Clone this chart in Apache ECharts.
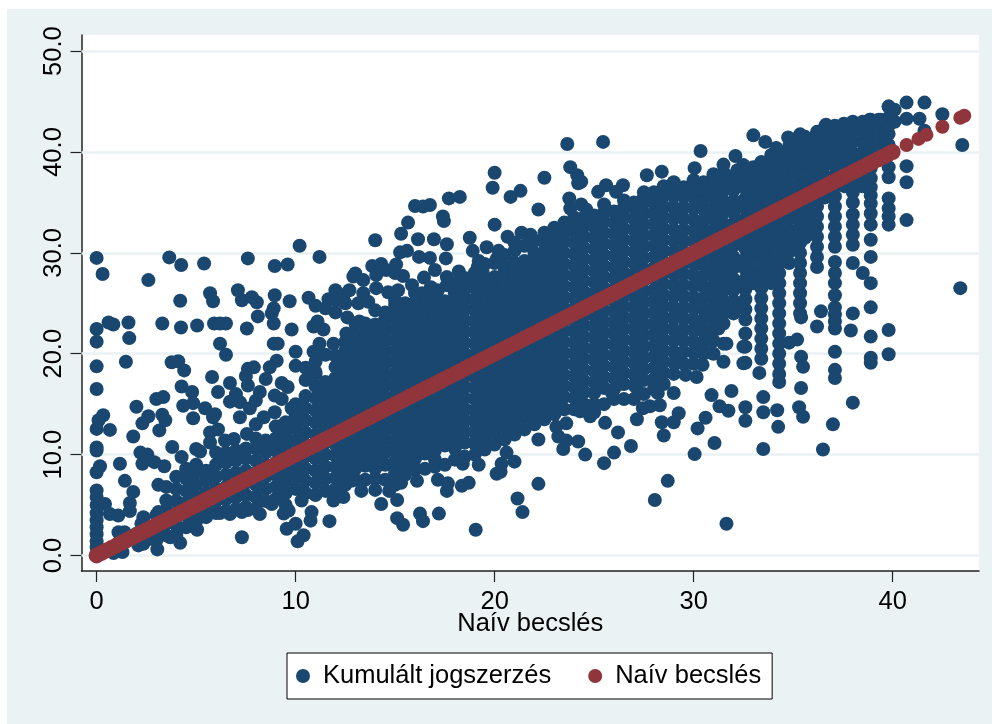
<!DOCTYPE html>
<html><head><meta charset="utf-8">
<style>html,body{margin:0;padding:0;background:#fff}#c{position:absolute;left:7px;top:9px;width:985px;height:715px}</style>
<script src="https://cdn.jsdelivr.net/npm/echarts@6/dist/echarts.min.js"></script></head>
<body><div id="c"></div>
<script>
const seriesNames = ['Kumulált jogszerzés','Naív becslés'];
const xTicks = [0,10,20,30,40];
const yTicks = [0,10,20,30,40,50];
const axisTitle = 'Naív becslés';

// Naív becslés (x = y)
const naiv = [0,.25,.5,.75,1,1.25,1.5,1.75,2,2.25,2.5,2.75,3,3.25,3.5,3.75,4,4.25,4.5,4.75,5,5.25,5.5,5.75,6,6.25,6.5,6.75,7,7.25,7.5,7.75,8,8.25,8.5,8.75,9,9.25,9.5,9.75,10,10.25,10.5,10.75,11,11.25,11.5,11.75,12,12.25,12.5,12.75,13,13.25,13.5,13.75,14,14.25,14.5,14.75,15,15.25,15.5,15.75,16,16.25,16.5,16.75,17,17.25,17.5,17.75,18,18.25,18.5,18.75,19,19.25,19.5,19.75,20,20.25,20.5,20.75,21,21.25,21.5,21.75,22,22.25,22.5,22.75,23,23.25,23.5,23.75,24,24.25,24.5,24.75,25,25.25,25.5,25.75,26,26.25,26.5,26.75,27,27.25,27.5,27.75,28,28.25,28.5,28.75,29,29.25,29.5,29.75,30,30.25,30.5,30.75,31,31.25,31.5,31.75,32,32.25,32.5,32.75,33,33.25,33.5,33.75,34,34.25,34.5,34.75,35,35.25,35.5,35.75,36,36.25,36.5,36.75,37,37.25,37.5,37.75,38,38.25,38.5,38.75,39,39.25,39.5,39.75,40,40.7,41.3,41.7,42.5,43.4,43.6];
const naivVonalVege = 40;

// Kumulált jogszerzés: dense columns, x then the y values in that column
const oszlopX = [3,3.5,4,4.5,5,5.5,6,6.5,7,7.5,8,8.5,9,9.5,10,10.5,11,11.5,12,12.5,13,13.5,14,14.5,15,15.5,16,16.5,17,17.5,18,18.5,19,19.5,20,20.5,21,21.5,22,22.5,23,23.5,24,24.5,25,25.5,26,26.5,27,27.5,28,28.5,29,29.5,30,30.5,31,31.5,32,32.6,33,33.4,33.9,34.3,34.8,35.35,35.8,36.2,36.6,37.1,37.6,38,38.5,38.9,39.4,39.8];
const oszlopY = [
[1.5,2.6,4],
[2,3.2,4.5,5.45,6.8],
[2,3,4.2,5.4,6.6,7.8],
[2.8,4,5.2,6.4,7.6,8.6],
[3.4,4.6,5.8,7,8.2,9],
[3.8,5,6.2,7.4,8.4],
[4.2,5.4,6.6,7.8,9,10.2],
[4.4,5.6,6.8,8,9.2,10.2],
[4.6,5.8,7,8.2,9.4,10.4],
[4.8,6,7.2,8.4,9.6,10.6],
[4.6,5.8,7,8.2,9.4,10.6,11.6],
[5.4,6.6,7.8,9,10.2,11.4],
[5.6,6.8,8,9.2,10.4,11.6,12.8],
[5,6.2,7.4,8.6,9.8,11,12.2,13.2],
[6.6,7.8,9,10.2,11.4,12.6,13.8,15],
[6.2,7.4,8.6,9.8,11,12.2,13.4,14.6,15.8,17.4],
[6,7.2,8.4,9.6,10.8,12,13.2,14.4,15.6,16.8,18,19.2],
[6.4,7.6,8.8,10,11.2,12.4,13.6,14.8,16,17.2,19.9],
[6.6,7.7,8.8,9.9,11,12.1,13.2,14.3,15.4,16.5,17.6,18.7,19.8],
[7,8.2,9.3,10.4,11.5,12.6,13.7,14.8,15.9,17,18.1,19.2,20.3,21.2],
[7.5,8.6,9.7,10.8,11.9,13,14.1,15.2,16.3,17.4,18.5,19.6,20.7,21.8],
[7.5,8.9,10,11.1,12.2,13.3,14.4,15.5,16.6,17.7,18.8,19.9,21,22.1,23],
[7.6,8.6,9.7,10.8,11.9,13,14.1,15.2,16.3,17.4,18.5,19.6,20.7,21.8,22.9],
[7.5,9,10.2,11.3,12.4,13.5,14.6,15.7,16.8,17.9,19,20.1,21.2,22.3,23.4],
[7,8.2,9.3,10.4,11.5,12.6,13.7,14.8,15.9,17,18.1,19.2,20.3,21.4,22.5,23.6],
[8,9,10.1,11.2,12.3,13.4,14.5,15.6,16.7,17.8,18.9,20,21.1,22.2,23.3,24.4,25],
[8.5,9.6,10.7,11.8,12.9,14,15.1,16.2,17.3,18.4,19.5,20.6,21.7,22.8,23.9,25],
[8.6,10.1,11.2,12.3,13.4,14.5,15.6,16.7,17.8,18.9,20,21.1,22.2,23.3,24.4,25.5],
[8.8,10.4,11.5,12.6,13.7,14.8,15.9,17,18.1,19.2,20.3,21.4,22.5,23.6,24.7,25.8],
[9,10.9,12,13.1,14.2,15.3,16.4,17.5,18.6,19.7,20.8,21.9,23,24.1,25.2],
[9.5,10.6,11.7,12.8,13.9,15,16.1,17.2,18.3,19.4,20.5,21.6,22.7,23.8,24.9,26],
[9.8,11.2,12.3,13.4,14.5,15.6,16.7,17.8,18.9,20,21.1,22.2,23.3,24.4,25.5,26.5],
[10,11.1,12.2,13.3,14.4,15.5,16.6,17.7,18.8,19.9,21,22.1,23.2,24.3,25.4,26.5,27.2],
[10.5,11.7,12.8,13.9,15,16.1,17.2,18.3,19.4,20.5,21.6,22.7,23.8,24.9,26,27.1],
[11,12.2,13.3,14.4,15.5,16.6,17.7,18.8,19.9,21,22.1,23.2,24.3,25.4,26.5,27.6],
[11.5,12.7,13.8,14.9,16,17.1,18.2,19.3,20.4,21.5,22.6,23.7,24.8,25.9,27,28.1,28.6],
[12,13.1,14.2,15.3,16.4,17.5,18.6,19.7,20.8,21.9,23,24.1,25.2,26.3,27.4,28.5,29],
[12.5,13.7,14.8,15.9,17,18.1,19.2,20.3,21.4,22.5,23.6,24.7,25.8,26.9,28,29.2],
[13,14.1,15.2,16.3,17.4,18.5,19.6,20.7,21.8,22.9,24,25.1,26.2,27.3,28.4,29.5,30],
[13.5,14.7,15.8,16.9,18,19.1,20.2,21.3,22.4,23.5,24.6,25.7,26.8,27.9,29,30.1,31],
[14,15.1,16.2,17.3,18.4,19.5,20.6,21.7,22.8,23.9,25,26.1,27.2,28.3,29.4,30.5,31.5],
[14.5,15.7,16.8,17.9,19,20.1,21.2,22.3,23.4,24.5,25.6,26.7,27.8,28.9,30,31.1,32],
[14.5,15.6,16.7,17.8,18.9,20,21.1,22.2,23.3,24.4,25.5,26.6,27.7,28.8,29.9,31,32.1,32.6],
[15,16.2,17.3,18.4,19.5,20.6,21.7,22.8,23.9,25,26.1,27.2,28.3,29.4,30.5,31.6,32.7,33.5],
[15,16.1,17.2,18.3,19.4,20.5,21.6,22.7,23.8,24.9,26,27.1,28.2,29.3,30.4,31.5,32.6,33.7],
[15,16.6,17.7,18.8,19.9,21,22.1,23.2,24.3,25.4,26.5,27.6,28.7,29.8,30.9,32,33.1,34],
[15.5,16.5,17.6,18.7,19.8,20.9,22,23.1,24.2,25.3,26.4,27.5,28.6,29.7,30.8,31.9,33,34.1],
[15.5,17,18.1,19.2,20.3,21.4,22.5,23.6,24.7,25.8,26.9,28,29.1,30.2,31.3,32.4,33.5,34.5],
[15.5,16.9,18,19.1,20.2,21.3,22.4,23.5,24.6,25.7,26.8,27.9,29,30.1,31.2,32.3,33.4,34.5,35],
[16,17.4,18.5,19.6,20.7,21.8,22.9,24,25.1,26.2,27.3,28.4,29.5,30.6,31.7,32.8,33.9,35,35.5],
[16.5,17.5,18.6,19.7,20.8,21.9,23,24.1,25.2,26.3,27.4,28.5,29.6,30.7,31.8,32.9,34,35.1,36],
[17,18.1,19.2,20.3,21.4,22.5,23.6,24.7,25.8,26.9,28,29.1,30.2,31.3,32.4,33.5,34.6,35.7],
[18,19.1,20.2,21.3,22.4,23.5,24.6,25.7,26.8,27.9,29,30.1,31.2,32.3,33.4,34.5,35.6,36.5],
[19,20.2,21.3,22.4,23.5,24.6,25.7,26.8,27.9,29,30.1,31.2,32.3,33.4,34.5,35.6,36.5],
[19,20.1,21.2,22.3,23.4,24.5,25.6,26.7,27.8,28.9,30,31.1,32.2,33.3,34.4,35.5,36.5],
[20,21.1,22.2,23.3,24.4,25.5,26.6,27.7,28.8,29.9,31,32.1,33.2,34.3,35.4,36.5,37],
[20,21.3,22.4,23.5,24.6,25.7,26.8,27.9,29,30.1,31.2,32.3,33.4,34.5,35.6,36.7,37.5],
[21,23,24.1,25.2,26.3,27.4,28.5,29.6,30.7,31.8,32.9,34,35.1,36.2,37.3,38],
[24,25.2,26.3,27.4,28.5,29.6,30.7,31.8,32.9,34,35.1,36.2,37.3,37.6],
[20.7,22,23.4,24.4,25.4,26.4,27.4,28.4,29.4,30.4,31.4,32.4,33.4,34.4,35.4,36.4,37.4,38.2],
[27,28.1,29.2,30.3,31.4,32.5,33.6,34.7,35.8,36.9,38,38.5],
[19.5,20.5,21.5,22.5,23.5,24.5,25.5,26.5,27.5,28.5,29.5,30.5,31.5,32.5,33.5,34.5,35.5,36.5,37.5,38.5,39],
[27,28.2,29.3,30.4,31.5,32.6,33.7,34.8,35.9,37,38.1,39.2,39.7],
[18,19,20,21,22,23,24,25,26,27,28,29,30,31,32,33,34,35,36,37,38,39,40],
[29,30.1,31.2,32.3,33.4,34.5,35.6,36.7,37.8,38.9,40,40.6],
[24,25,26,27,28,29,30,31,32,33,34,35,36,37,38,39,40,41],
[32.5,33.6,34.7,35.8,36.9,38,39.1,40.2,41.2],
[28.6,29.6,30.6,31.6,32.6,33.6,34.6,35.6,36.6,37.6,38.6,39.6,40.6,41.6,42],
[35.5,36.5,37.6,38.7,39.8,40.9,42,42.5],
[30.6,31.6,32.6,33.6,34.6,35.6,36.6,37.6,38.6,39.6,40.6,41.6,42.6],
[36.6,37.7,38.8,39.9,41,42.1,42.7],
[30.8,31.8,32.8,33.8,35,36,37,38,39,39.9,41,42,43],
[36.6,37.6,39,40,41,42,43],
[29.6,31.3,32.8,33.9,34.9,35.7,36.5,37.4,38.4,39.4,40.4,41.4,42.4,43.2],
[39.5,40.5,41.5,42.5,43.2],
[32.8,33.6,34.4,35.4,37.5,38.5,40.7,41.8,42.6,43.4,44.5]
];

// Kumulált jogszerzés: further columns where the reference's band is solid
const sumruX = [26.25,27.25,28.25,29.25,30.25,30.75,31.25,31.75,32.3,33.2,33.65,34.1,34.55,35.1,35.6,36];
const sumruY = [
[17,19,21,23,25,27,29,31,33],
[18,20,22,24,26,28,30,32,34],
[19,21,23,25,27,29,31,33,35],
[20,22,24,26,28,30,32,34,35.8],
[21,23,25,27,29,31,33,35,36.4],
[22,24,26,28,30,32,34,36],
[22.5,24.5,26.5,28.5,30.5,32.5,34.5,36.5],
[24.5,26.5,28.5,30.5,32.5,34.5,36.5],
[25,27,29,31,33,35,37],
[27.5,29,30.5,32,33.5,35,36.5,38],
[28,29.5,31,32.5,34,35.5,37,38.5],
[28.5,30,31.5,33,34.5,36,37.5,39],
[30,31.5,33,34.5,36,37.5,39],
[30.5,32,33.5,35,36.5,38,39.5,40.5],
[31.5,33,34.5,36,37.5,39,40.5],
[33,34.5,36,37.5,39,40.5]
];

// Kumulált jogszerzés: separate points read from the left part
const pontokBal = [[0,29.5],[.3,27.9],[2.6,27.3],[3.65,29.55],[4.25,28.8],[5.4,28.95],[7.6,29.45],[8.95,28.7],[9.6,28.85],[10.2,30.7],[11.2,29.6],[5.7,26],[5.85,25.2],[4.2,25.25],[7.1,26.3],[7.3,25.3],[7.8,25.6],[8.05,25.1],[8.95,25.8],[9.7,25.2],[8.9,24.5],[8.8,24],[8.1,23.7],[10.65,25.55],[11,24.75],[11.5,24.5],[11.65,25.4],[12,26.3],[12.05,25.3],[12.4,25.8],[12.9,27.65],[13,27.95],[13.4,27.3],[12.7,26.3],[13.4,26],[13.65,25.15],[13.15,25],[12.5,25],[14,31.25],[13.85,28.7],[14.3,28.9],[14.05,27.8],[14.55,28.3],[15.05,28.85],[15,28],[15.4,27.7],[15.3,31.9],[15.65,33],[16,34.65],[16.4,34.6],[16.75,34.75],[17.7,35.4],[18.25,35.55],[17.4,33.6],[17.45,33.15],[16.15,31.35],[16.95,31.35],[17.6,30.85],[18.75,31.5],[15.25,30.05],[15.6,30.2],[16.2,29.6],[16.75,29.5],[17.55,29.45],[18.9,30.2],[19.6,30.55],[20,37.95],[19.9,36.45],[20,32.8],[19.15,28.6],[17,28.3],[16.45,27.55],[15.85,26.8],[14.05,26.5],[14.65,26.1],[15.15,26.3],[16.35,26],[16.6,25.4],[14.5,24.1],[15,24.85],[15.1,24.1],[15.4,24.3],[15.7,24],[18.2,28.15],[17.6,27.6],[17.15,26.3],[18.1,26.5],[18.4,26.05],[18.75,27.45],[19.4,28.1],[19,25.3],[19.95,25.15],[17.9,25],[17.4,24.8],[17,24],[19.8,27],[20.2,30.2],[20.1,29.4]];

const pontokNulla = [[0,22.45],[0,21.2],[0,18.75],[0,16.5],[.33,13.9],[.1,13.4],[0,12.55],[.67,12.45],[0,10.7],[0,10.4],[.17,8.85],[0,8.25],[0,6.45],[0,5.8],[0,5],[0,4.2],[0,3.5],[0,2.8],[0,2.1],[0,1.4],[0,.8],[.42,5.1],[.67,4.1],[1.09,3.95],[1.17,9.1],[1.42,7.4],[1.84,6.3],[1.67,5.2],[1.67,4.4],[1.47,19.2],[1.64,21.55],[.84,22.9],[.6,23.1],[1.6,23.1],[2,14.75],[1.84,11.8],[2.6,13.8],[2.3,13.1],[3,15.5],[3.35,15.7],[3.3,13.95],[3.45,13.4],[3.15,12.4],[3.8,10.75],[4.27,9.75],[2.2,10.2],[2.55,10],[2.3,9.1],[2.9,9.25],[3.4,8.85],[3.1,7],[3.3,23],[4.24,22.6],[5.05,22.8],[5.9,23],[6.2,23],[6.5,23],[7.55,22.5],[6.2,21],[6.5,19.9],[8.9,23],[9.8,22.4],[8.9,21],[9.1,21],[10,20.2],[2.1,1],[2.35,1.15],[2.7,1.65],[2,2.15],[2.35,3.8],[2.25,3.15],[1.1,2.3],[1.4,2.3],[3.1,4.3],[3.7,3.5],[1.3,.35],[.85,.25],[.6,.6],[1.1,1]];

const pontokKozep = [[3.77,19.15],[4.1,19.25],[4.4,18.35],[4.27,16.75],[4.8,16.2],[4.35,14.85],[4.85,15.1],[5.45,14.6],[4.85,13.6],[5.85,13.7],[5.95,14],[5.8,17.7],[6.1,16.2],[5.7,12.2],[6.1,12.5],[5.7,11.2],[5,10.55],[5.2,10.3],[7.6,18.5],[7.9,18.65],[7.5,17.8],[6.7,17.1],[7.6,16.85],[7,16],[6.7,15.25],[7.2,15.2],[7.7,14.6],[7.2,13.7],[8.2,16.2],[8,15.35],[9.05,19.3],[8.7,18.65],[8.5,17.5],[8.95,15.85],[9.3,15.5],[9.3,17.1],[9.6,16.7],[8.95,14.2],[9.8,14.6],[8.4,13.7],[8,13],[9.4,13],[7.55,12.05],[6.9,11.55],[6.45,11.4],[8.5,10.9],[7.4,9.9],[6.3,9.9],[10,18.8],[10.5,18.6],[11,18.2],[10.9,20.2],[11.2,21],[11.9,21],[12.55,22],[12.9,22],[13.55,21.8],[11.4,22.4],[10.9,22.7],[11.1,23.2],[12,24.1],[12.6,23.6],[13.2,23.2]];

const pontokAlso = [[7.3,1.8],[5.05,2.55],[4.2,1.25],[3.05,.6],[3.7,1.8],[11.7,3.4],[10.75,3.45],[10.8,4.3],[10,3.15],[9.55,2.65],[10.4,2],[10.1,1.4],[9.4,4.15],[9.65,4.45],[8.2,4.1],[10.3,5.45],[11.9,5.45],[12.4,5.8],[13.3,6.4],[14.3,5.1],[15.1,5.5],[15.1,3.7],[15.4,3.05],[16.25,4.15],[16.4,3.4],[17.2,4.15],[19.05,2.55],[17.6,6.4],[18.35,6.9],[18.7,7.2],[17.15,7.5],[17.65,7.15],[20.1,8.1],[14,6.5],[14.7,6.4],[16.1,7.4],[15.3,7.2],[12.8,7.4],[6.2,4.2],[6.7,4.1],[7.3,4.3],[7.6,4.5],[8.8,5.1],[20.6,10.2],[19.2,9],[18.4,9.1],[17,9.5],[16,8.6],[31.65,3.15],[28.05,5.5],[28.7,7.4],[22.2,7.1],[21.15,5.65],[21.4,4.3],[21,9.3],[20.35,9.1],[20.3,8.3],[25.5,9.15],[26,10.2],[26.85,10.85],[24.55,10],[23.45,10.55],[24.2,11.3],[23.6,11.4],[23.2,11.8],[22.2,11.5],[23.1,12.75],[23.6,13.1],[26.2,12.2],[25.55,13.15],[28.5,11.9],[30.05,10.05],[31.05,11.15],[30.2,12.6],[30.6,13.65],[33.5,10.55],[36.5,10.5],[37,13],[34.25,12.75],[32.6,13.35],[33.5,14.2],[34.2,14.4],[32.6,14.7],[31.3,14.8],[31.75,14.35],[35.3,14.7],[35.5,13.75],[38,15.15],[27.15,13.5],[28.4,13.2],[29,13.2],[29.25,14.1],[27.45,14.6],[27.8,14.8],[28.3,14.9],[24.8,13.8],[24.3,14.3],[25,14.2],[28.1,17.4],[29.1,19.05],[30.15,17.7],[30.45,18.9],[31.5,19.2],[31.9,16.3],[30.9,15.9],[32.5,19.05],[32.5,20.7],[25.9,16.1],[27.1,16.7],[28.2,16.1],[29,16.1],[31.65,21],[33.3,18.1],[33.5,15.7],[34.3,17.2],[34.8,21.1],[35.2,21.4],[35.4,19.7],[35.5,18.7],[35.4,16.6],[35.4,23.6],[36.4,24.2],[36.2,22.7],[37.1,24.6],[37.1,23.9],[37.1,23.2],[37.1,22.5],[37.1,25.8],[37.1,27],[37.1,28],[37.1,29.1],[37.1,20.2],[37.1,18.4],[37.1,17.6],[38,24],[37.9,22.3],[38,29],[38.5,28],[38.9,27],[38.9,24.6],[38.9,21.7],[38.9,19.6],[38.9,19.1],[39.8,22.35],[39.8,19.95],[32.6,19.1],[30.9,20.1],[29.6,17.9]];

const pontokFelso = [[23.65,40.8],[25.45,41],[23.8,38.5],[24.15,37.7],[24.35,37.05],[24.2,36.9],[22.5,37.45],[21.3,36.15],[20.8,35.55],[22.2,34.3],[20.65,31.6],[21.35,32],[23.75,35.4],[23.8,34.4],[24.35,34.8],[25.2,36.05],[25.6,36.7],[26.45,36.7],[26.1,36.05],[27.65,37.7],[28.4,38.05],[30.35,40.1],[30.05,38.4],[31.5,38.75],[32.1,39.6],[32.2,38.2],[33,41.65],[33.6,41],[34.15,40.4],[34.75,41.45],[35.35,41.75],[35.6,41.5],[36.65,42.7],[37.55,42.8],[38.85,43.2],[39.3,43.2],[40.7,44.9],[41.6,44.9],[42.5,43.75],[43.5,40.7],[43.4,26.5],[40.7,33.25],[40.7,37],[40.7,38.6],[40.7,43.3],[41.35,43.3],[41.6,42.1],[39.8,44.5],[40.1,44.2],[40.1,43],[39.7,42]];

const pontokSzegely = [[18.5,27.5],[19,28],[19.5,28.9],[20,29],[20.5,29.8],[21,30.2],[21.5,30.7],[22,31.2],[22.5,32],[23,32.5],[23.5,33],[24,33.5],[21,31],[21.8,31.8],[19.2,29.2],[18.2,27.2],[17.6,26.8],[16.8,26.6],[16,26],[15,25.3],[14,24.3],[13,23],[24.6,34.3],[25.5,34.8],[26.5,35.2],[27.5,36],[28.5,36.6],[29,37],[30,37.2],[31,37.8],[32.5,38.7]];

const kumulalt = [];
oszlopX.forEach((x, i) => oszlopY[i].forEach(y => kumulalt.push([x, y])));
sumruX.forEach((x, i) => sumruY[i].forEach(y => kumulalt.push([x, y])));
[pontokBal, pontokNulla, pontokKozep, pontokAlso, pontokFelso, pontokSzegely].forEach(l => l.forEach(p => kumulalt.push(p)));

const FONT = '"Liberation Sans", Arial, sans-serif';
const BG = '#eaf2f3', BLUE = '#1a476f', RED = '#90353b';
const chart = echarts.init(document.getElementById('c'), null, {renderer:'canvas'});
chart.setOption({
  animation:false,
  backgroundColor:BG,
  grid:{show:true, backgroundColor:'#fff', borderWidth:0, left:74.5, top:26, width:897.5, height:536},
  legend:{
    show:true, left:280, top:644, orient:'horizontal',
    backgroundColor:'#fff', borderColor:'#000', borderWidth:1, borderRadius:0,
    padding:[10,11,10,9], itemGap:37, itemWidth:14, itemHeight:14, icon:'circle',
    textStyle:{fontFamily:FONT, fontSize:25.5, color:'#000', padding:[0,0,0,8]},
    data:seriesNames
  },
  xAxis:{
    type:'value', min:-0.76, max:44.34, interval:10, name:axisTitle, nameLocation:'middle', nameGap:40, nameMoveOverlap:false,
    nameTextStyle:{fontFamily:FONT, fontSize:25.5, color:'#000'},
    axisLine:{show:true, onZero:false, lineStyle:{color:'#222', width:1.5}},
    axisTick:{show:true, length:11, lineStyle:{color:'#222', width:1.2}, customValues:xTicks},
    axisLabel:{fontFamily:FONT, fontSize:25.5, color:'#000', margin:18, customValues:xTicks, formatter:v=>String(v)},
    splitLine:{show:false}
  },
  yAxis:{
    type:'value', min:-1.54, max:51.6, interval:10,
    axisLine:{show:true, onZero:false, lineStyle:{color:'#222', width:1.5}},
    axisTick:{show:true, length:11, lineStyle:{color:'#222', width:1.2}, customValues:yTicks},
    axisLabel:{fontFamily:FONT, fontSize:25.5, color:'#000', margin:15, rotate:90, customValues:yTicks, formatter:v=>v.toFixed(1)},
    splitLine:{show:false}
  },
  series:[
    {name:seriesNames[0], type:'scatter', z:3, data:kumulalt, symbol:'circle', symbolSize:14, itemStyle:{color:BLUE, opacity:1}, large:false, silent:true,
     markLine:{silent:true, symbol:'none', z:1, label:{show:false}, lineStyle:{color:BG, width:2.5, type:'solid'}, data:yTicks.map(v=>({yAxis:v}))}},
    {name:seriesNames[1], type:'scatter', z:4, data:naiv.map(v=>[v,v]), symbol:'circle', symbolSize:d=>d[0]>naivVonalVege?14:16, itemStyle:{color:RED, opacity:1}, large:false, silent:true}
  ]
});
</script></body></html>
